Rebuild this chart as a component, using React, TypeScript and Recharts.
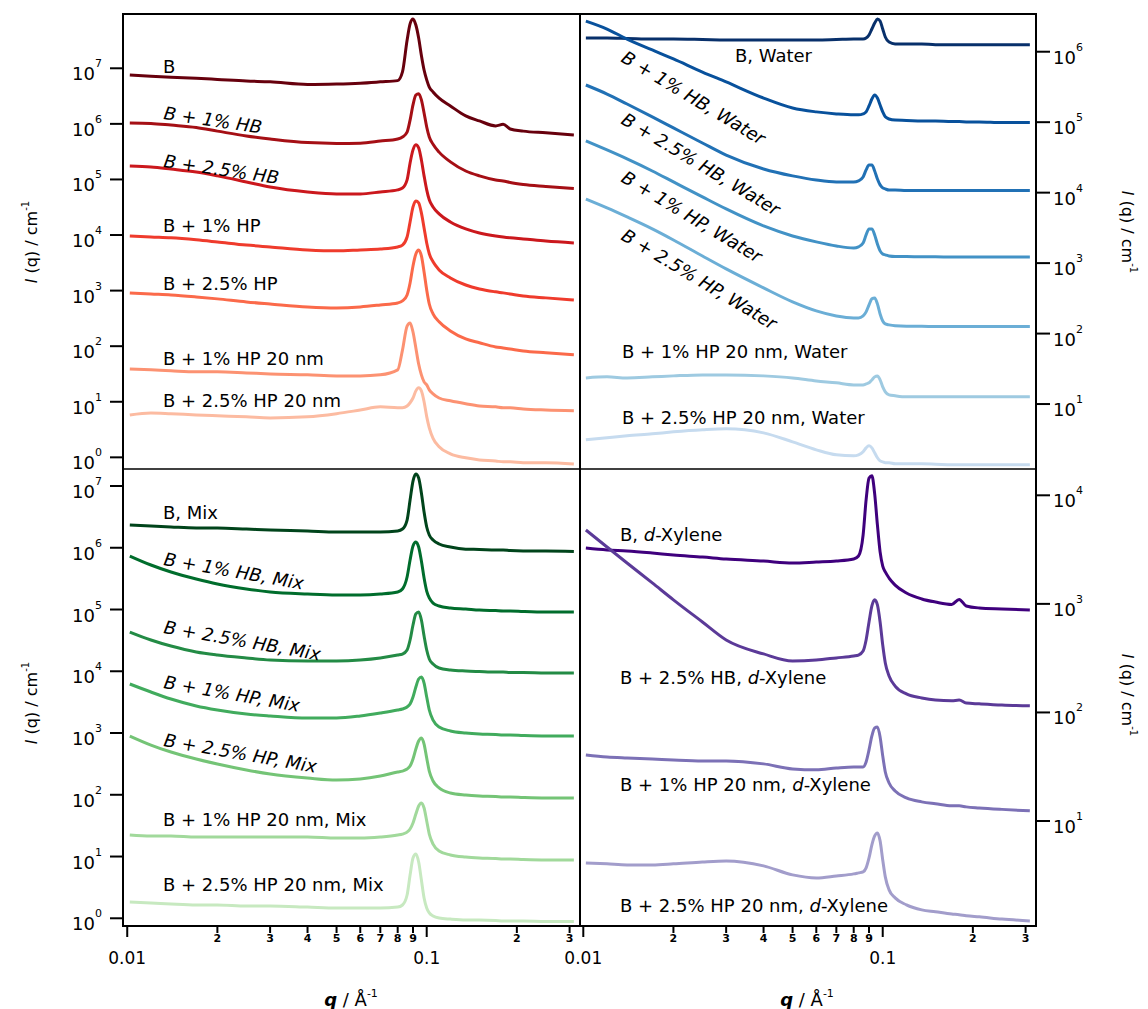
import React from "react";
import { LineChart, Line, XAxis, YAxis } from "recharts";

// shared q grid (Å^-1)
const qValues = [
  0.0102, 0.012, 0.014, 0.017, 0.02, 0.025, 0.03, 0.04, 0.05, 0.06, 0.07, 0.08,
  0.083, 0.086, 0.088, 0.09, 0.092, 0.094, 0.096, 0.098, 0.1, 0.102, 0.105, 0.11,
  0.12, 0.135, 0.15, 0.17, 0.18, 0.19, 0.21, 0.25, 0.31
];

// top left: bulk samples
const bulkB = [7.6e6, 7.2e6, 6.9e6, 6.6e6, 6.3e6, 5.9e6, 5.7e6, 5.1e6, 5.2e6, 5.4e6, 5.7e6, 6.0e6, 8.6e6, 3.2e7, 6.3e7, 7.7e7, 6.0e7, 3.5e7, 1.7e7, 9.3e6, 6.2e6, 4.6e6, 3.75e6, 2.9e6, 2.1e6, 1.39e6, 1.13e6, 9.2e5, 9.8e5, 8.1e5, 7.4e5, 6.9e5, 6.3e5];
const bulkHB1 = [1.04e6, 1.02e6, 9.5e5, 8.6e5, 7.4e5, 6.05e5, 5.35e5, 4.6e5, 4.45e5, 4.5e5, 4.9e5, 5.35e5, 5.8e5, 7.1e5, 1.17e6, 2.2e6, 3.3e6, 3.5e6, 2.7e6, 1.57e6, 8.8e5, 5.8e5, 4.3e5, 3.1e5, 2.07e5, 1.42e5, 1.16e5, 9.8e4, 9.4e4, 8.8e4, 8.1e4, 7.5e4, 6.9e4];
const bulkHB25 = [1.75e5, 1.68e5, 1.54e5, 1.36e5, 1.16e5, 9.0e4, 7.3e4, 5.96e4, 5.5e4, 5.5e4, 5.96e4, 6.5e4, 7.0e4, 9.8e4, 1.98e5, 3.4e5, 4.2e5, 3.7e5, 2.24e5, 1.16e5, 6.5e4, 4.3e4, 3.2e4, 2.4e4, 1.72e4, 1.29e4, 1.09e4, 9.6e3, 9.2e3, 8.9e3, 8.5e3, 7.8e3, 7.2e3];
const bulkHP1 = [9.6e3, 9.2e3, 8.9e3, 8.2e3, 7.5e3, 6.6e3, 6.1e3, 5.4e3, 5.2e3, 5.4e3, 5.6e3, 6.1e3, 6.6e3, 9.2e3, 1.72e4, 3.2e4, 4.1e4, 3.8e4, 2.5e4, 1.34e4, 7.2e3, 4.6e3, 3.3e3, 2.36e3, 1.69e3, 1.26e3, 1.07e3, 950, 910, 870, 800, 740, 680];
const bulkHP25 = [910, 870, 836, 770, 710, 625, 575, 508, 488, 508, 552, 600, 652, 836, 1370, 2780, 4570, 5400, 4200, 2170, 1030, 575, 381, 274, 188, 135, 115, 97, 93, 89, 82, 76, 70];
const bulkHP1nm20 = [39, 37.5, 36, 34.5, 34.5, 33, 31.7, 30.5, 29.2, 29.2, 30.5, 37.5, 85, 230, 261, 180, 93, 47.8, 30.5, 22.8, 20.1, 16.4, 13.9, 11.7, 10.4, 9.2, 8.4, 8.1, 7.8, 7.8, 7.4, 7.1, 6.9];
const bulkHP25nm20 = [5.8, 6.3, 6.1, 5.8, 5.6, 5.35, 5.1, 5.35, 6.1, 7.1, 8.1, 7.8, 7.8, 8.4, 9.6, 11.7, 15.7, 17.8, 15.7, 10, 5.4, 3.4, 2.2, 1.55, 1.155, 0.98, 0.9, 0.86, 0.83, 0.83, 0.8, 0.8, 0.76];

// top right: water
const waterB = [1.56e6, 1.56e6, 1.54e6, 1.51e6, 1.51e6, 1.49e6, 1.47e6, 1.47e6, 1.47e6, 1.47e6, 1.49e6, 1.51e6, 1.51e6, 1.51e6, 1.56e6, 1.73e6, 2.1e6, 2.55e6, 2.91e6, 2.73e6, 2.1e6, 1.62e6, 1.37e6, 1.29e6, 1.29e6, 1.29e6, 1.26e6, 1.26e6, 1.26e6, 1.26e6, 1.26e6, 1.26e6, 1.26e6];
const waterHB1 = [2.72e6, 2.1e6, 1.51e6, 1.06e6, 7.9e5, 5.15e5, 3.72e5, 2.2e5, 1.59e5, 1.4e5, 1.31e5, 1.27e5, 1.27e5, 1.31e5, 1.4e5, 1.7e5, 2.13e5, 2.43e5, 2.2e5, 1.75e5, 1.4e5, 1.19e5, 1.11e5, 1.07e5, 1.06e5, 1.04e5, 1.04e5, 1.02e5, 1.02e5, 1.01e5, 1.01e5, 9.9e4, 9.9e4];
const waterHB25 = [3.37e5, 2.51e5, 1.81e5, 1.19e5, 8.3e4, 5.07e4, 3.42e4, 2.17e4, 1.73e4, 1.51e4, 1.42e4, 1.42e4, 1.47e4, 1.67e4, 2.1e4, 2.47e4, 2.47e4, 2.03e4, 1.56e4, 1.29e4, 1.17e4, 1.13e4, 1.09e4, 1.09e4, 1.07e4, 1.07e4, 1.07e4, 1.07e4, 1.07e4, 1.07e4, 1.07e4, 1.07e4, 1.07e4];
const waterHP1 = [5.41e4, 4.03e4, 3.01e4, 2.03e4, 1.42e4, 8.7e3, 5.87e3, 3.37e3, 2.43e3, 2.0e3, 1.75e3, 1.64e3, 1.7e3, 1.93e3, 2.51e3, 3.06e3, 3.06e3, 2.51e3, 1.87e3, 1.49e3, 1.35e3, 1.31e3, 1.26e3, 1.24e3, 1.24e3, 1.23e3, 1.23e3, 1.22e3, 1.22e3, 1.22e3, 1.22e3, 1.22e3, 1.22e3];
const waterHP25 = [8.1e3, 6.07e3, 4.52e3, 3.06e3, 2.13e3, 1.26e3, 827, 445, 282, 210, 178, 167, 167, 178, 203, 255, 311, 321, 264, 190, 151, 137, 133, 129, 127, 127, 126, 126, 126, 126, 126, 126, 126];
const waterHP1nm20 = [23.5, 24.3, 23.5, 24.3, 25.1, 25.9, 25.9, 25.1, 23.5, 21.3, 20.0, 18.7, 18.7, 18.7, 19.3, 20.0, 22.0, 24.3, 25.1, 22.0, 17.5, 14.9, 13.5, 13.1, 12.65, 12.65, 12.65, 12.65, 12.65, 12.65, 12.65, 12.65, 12.65];
const waterHP25nm20 = [3.11, 3.32, 3.54, 3.78, 4.03, 4.31, 4.45, 3.9, 2.91, 2.24, 1.9, 1.84, 1.9, 2.1, 2.39, 2.55, 2.39, 2.03, 1.73, 1.56, 1.51, 1.47, 1.47, 1.42, 1.42, 1.42, 1.4, 1.37, 1.37, 1.37, 1.37, 1.37, 1.37];

// bottom left: mix
const mixB = [2.34e6, 2.25e6, 2.17e6, 2.09e6, 2.09e6, 2.01e6, 1.94e6, 1.87e6, 1.8e6, 1.8e6, 1.8e6, 1.87e6, 2.01e6, 2.81e6, 5.93e6, 1.2e7, 1.56e7, 1.35e7, 7.7e6, 3.79e6, 2.17e6, 1.61e6, 1.34e6, 1.15e6, 1.03e6, 9.5e5, 9.4e5, 9.2e5, 9.2e5, 9.0e5, 8.86e5, 8.86e5, 8.7e5];
const mixHB1 = [7.35e5, 5.26e5, 4.05e5, 3.12e5, 2.59e5, 2.15e5, 1.92e5, 1.78e5, 1.72e5, 1.72e5, 1.78e5, 1.92e5, 2.15e5, 3.36e5, 6.33e5, 1.07e6, 1.24e6, 1.03e6, 6.1e5, 3.24e5, 1.99e5, 1.54e5, 1.27e5, 1.14e5, 1.06e5, 1.02e5, 9.8e4, 9.6e4, 9.5e4, 9.5e4, 9.3e4, 9.1e4, 9.1e4];
const mixHB25 = [4.32e4, 3.21e4, 2.56e4, 2.05e4, 1.83e4, 1.64e4, 1.52e4, 1.47e4, 1.47e4, 1.52e4, 1.64e4, 1.83e4, 1.9e4, 2.21e4, 3.21e4, 5.61e4, 8.46e4, 9.1e4, 6.76e4, 3.72e4, 2.21e4, 1.58e4, 1.31e4, 1.13e4, 1.05e4, 1.01e4, 9.9e3, 9.7e3, 9.7e3, 9.55e3, 9.55e3, 9.4e3, 9.4e3];
const mixHP1 = [6.22e3, 4.61e3, 3.55e3, 2.74e3, 2.36e3, 2.03e3, 1.89e3, 1.75e3, 1.75e3, 1.89e3, 2.11e3, 2.36e3, 2.45e3, 2.64e3, 2.95e3, 3.83e3, 5.56e3, 7.49e3, 8.07e3, 6.45e3, 3.83e3, 2.36e3, 1.62e3, 1.25e3, 1.08e3, 1.0e3, 963, 946, 928, 928, 911, 894, 894];
const mixHP25 = [894, 639, 492, 379, 315, 252, 217, 187, 173, 180, 201, 234, 242, 261, 292, 379, 551, 742, 830, 663, 394, 242, 167, 129, 107, 99, 95.5, 93.7, 92, 92, 90.3, 88.6, 88.6];
const mixHP1nm20 = [22.3, 21.5, 21.5, 20.7, 20.7, 20.7, 20.7, 20.7, 19.9, 19.9, 20.7, 22.3, 23.1, 24.9, 27.9, 34.9, 48.8, 65.7, 73.5, 61, 37.6, 23.1, 15.9, 12.3, 10.6, 9.8, 9.46, 9.28, 9.11, 9.11, 8.94, 8.78, 8.78];
const mixHP25nm20 = [1.83, 1.77, 1.7, 1.64, 1.64, 1.58, 1.58, 1.52, 1.47, 1.47, 1.47, 1.52, 1.64, 2.38, 5.02, 9.46, 11.0, 8.15, 4.16, 2.13, 1.47, 1.22, 1.09, 1.01, 0.97, 0.94, 0.94, 0.92, 0.9, 0.9, 0.9, 0.886, 0.886];

// bottom right: d-xylene
const xylB = [3.27e3, 3.14e3, 3.07e3, 2.94e3, 2.82e3, 2.7e3, 2.59e3, 2.48e3, 2.38e3, 2.43e3, 2.48e3, 2.59e3, 2.76e3, 4.31e3, 9.06e3, 1.44e4, 1.51e4, 1.03e4, 5.33e3, 3.01e3, 2.23e3, 1.97e3, 1.73e3, 1.49e3, 1.26e3, 1.11e3, 1.04e3, 988, 1.1e3, 957, 917, 898, 879];
const xylHB25 = [4.79e3, 3.34e3, 2.38e3, 1.56e3, 1.09e3, 681, 465, 346, 298, 304, 318, 331, 338, 368, 465, 681, 957, 1.09e3, 977, 681, 418, 286, 217, 175, 148, 136, 130, 128, 130, 122, 120, 117, 115];
const xylHP1nm20 = [40.6, 38.9, 38.1, 37.3, 36.5, 35.8, 35.8, 33.6, 30.2, 29.6, 30.8, 31.5, 31.5, 31.5, 35.0, 45.2, 60.8, 72.0, 73.5, 59.5, 39.8, 28.3, 22.4, 18.9, 16.3, 15.0, 14.4, 13.8, 13.8, 13.5, 13.2, 12.8, 12.4];
const xylHP25nm20 = [4.11, 4.03, 3.94, 3.94, 4.03, 4.2, 4.29, 3.86, 3.19, 2.99, 3.12, 3.26, 3.33, 3.4, 3.7, 4.57, 6.03, 7.29, 7.77, 6.56, 4.38, 3.06, 2.32, 1.96, 1.69, 1.52, 1.46, 1.39, 1.37, 1.34, 1.31, 1.25, 1.2];

const bulkNames = ["B", "B + 1% HB", "B + 2.5% HB", "B + 1% HP", "B + 2.5% HP", "B + 1% HP 20 nm", "B + 2.5% HP 20 nm"];
const waterNames = ["B, Water", "B + 1% HB, Water", "B + 2.5% HB, Water", "B + 1% HP, Water", "B + 2.5% HP, Water", "B + 1% HP 20 nm, Water", "B + 2.5% HP 20 nm, Water"];
const mixNames = ["B, Mix", "B + 1% HB, Mix", "B + 2.5% HB, Mix", "B + 1% HP, Mix", "B + 2.5% HP, Mix", "B + 1% HP 20 nm, Mix", "B + 2.5% HP 20 nm, Mix"];
const xyleneNames = ["B, d-Xylene", "B + 2.5% HB, d-Xylene", "B + 1% HP 20 nm, d-Xylene", "B + 2.5% HP 20 nm, d-Xylene"];

const xTicks = [0.01, 0.02, 0.03, 0.04, 0.05, 0.06, 0.07, 0.08, 0.09, 0.1, 0.2, 0.3];
const xTickLabels = ["0.01", "2", "3", "4", "5", "6", "7", "8", "9", "0.1", "2", "3"];
const yTicksBulk = [1, 10, 100, 1e3, 1e4, 1e5, 1e6, 1e7];
const yTicksWater = [10, 100, 1e3, 1e4, 1e5, 1e6];
const yTicksMix = [1, 10, 100, 1e3, 1e4, 1e5, 1e6, 1e7];
const yTicksXylene = [10, 100, 1e3, 1e4];
const yExponents: Record<number, string> = { 1: "0", 10: "1", 100: "2", 1000: "3", 10000: "4", 100000: "5", 1000000: "6", 10000000: "7" };

const reds = ["#67000d", "#a50f15", "#cb181d", "#ef3b2c", "#fb6a4a", "#fc9272", "#fcbba1"];
const blues = ["#08306b", "#08519c", "#2171b5", "#4292c6", "#6baed6", "#9ecae1", "#c6dbef"];
const greens = ["#00441b", "#006d2c", "#238b45", "#41ab5d", "#74c476", "#a1d99b", "#c7e9c0"];
const purples = ["#3f007d", "#5b3a98", "#7c71b6", "#a29dcb"];

const FONT = "DejaVu Sans";

function XTick(props: any) {
  const { x, y, payload } = props;
  const label = xTickLabels[xTicks.indexOf(payload.value)];
  const major = label.includes(".");
  return (
    <g>
      <line x1={x} x2={x} y1={y} y2={y + (major ? 11 : 7)} stroke="#000" strokeWidth={2} />
      {major ? (
        <text x={x} y={y + 38} textAnchor="middle" fontSize={17} fontFamily={FONT} fill="#000">{label}</text>
      ) : (
        <text x={x} y={y + 16} textAnchor="middle" fontSize={11} fontWeight="bold" fontFamily={FONT} fill="#000">{label}</text>
      )}
    </g>
  );
}

function YTick(props: any) {
  const { x, y, payload, side } = props;
  const exp = yExponents[Math.round(payload.value)];
  const left = side === "left";
  return (
    <g>
      <line x1={left ? x - 13 : x} x2={left ? x : x + 14} y1={y} y2={y} stroke="#000" strokeWidth={2} />
      <text x={left ? x - 21 : x + 17} y={y + 12} textAnchor={left ? "end" : "start"} fontSize={18} fontFamily={FONT} fill="#000">
        10<tspan dy={-13} fontSize={11}>{exp}</tspan>
      </text>
    </g>
  );
}

interface PanelProps {
  left: number;
  top: number;
  width: number;
  height: number;
  margin: { top: number; right: number; bottom: number; left: number };
  series: number[][];
  colors: string[];
  xDomain: [number, number];
  yDomain: [number, number];
  yTicks: number[];
  side: "left" | "right";
  showX: boolean;
}

function Panel(p: PanelProps) {
  const rows = qValues.map((q, i) => {
    const row: Record<string, number> = { q };
    p.series.forEach((s, k) => {
      row["s" + k] = s[i];
    });
    return row;
  });
  return (
    <div style={{ position: "absolute", left: p.left, top: p.top }}>
      <LineChart width={p.width} height={p.height} data={rows} margin={p.margin}>
        <XAxis
          type="number"
          dataKey="q"
          scale="log"
          domain={p.xDomain}
          allowDataOverflow
          ticks={xTicks}
          interval={0}
          hide={!p.showX}
          height={60}
          axisLine={false}
          tickLine={false}
          tickSize={0}
          tickMargin={0}
          tick={(t: any) => <XTick {...t} />}
        />
        <YAxis
          type="number"
          scale="log"
          domain={p.yDomain}
          allowDataOverflow
          ticks={p.yTicks}
          interval={0}
          orientation={p.side}
          width={60}
          axisLine={false}
          tickLine={false}
          tickSize={0}
          tickMargin={0}
          tick={(t: any) => <YTick {...t} side={p.side} />}
        />
        {p.series.map((_, k) => (
          <Line
            key={k}
            type="monotone"
            dataKey={"s" + k}
            stroke={p.colors[k]}
            strokeWidth={3}
            strokeLinejoin="round"
            dot={false}
            isAnimationActive={false}
          />
        ))}
      </LineChart>
    </div>
  );
}

// label anchors: [x, y, angle]
const bulkLabelPos = [[163, 73, 0], [163, 119, 8.5], [163, 167, 8.5], [163, 232, 0], [163, 290, 0], [163, 365, 0], [163, 407, 0]];
const waterLabelPos = [[735, 62, 0], [620, 61, 31], [620, 123, 31], [620, 181, 31], [620, 239, 31], [622, 358, 0], [622, 424, 0]];
const mixLabelPos = [[163, 519, 0], [163, 565, 10], [163, 633, 10], [163, 688, 10], [163, 746, 10], [163, 826, 0], [163, 891, 0]];
const xyleneLabelPos = [[620, 541, 0], [620, 684, 0], [620, 791, 0], [620, 912, 0]];

function CurveLabel({ text, pos }: { text: string; pos: number[] }) {
  const [x, y, angle] = pos;
  const parts = text.split("d-Xylene");
  return (
    <text
      x={x}
      y={y}
      transform={angle ? `rotate(${angle} ${x} ${y})` : undefined}
      fontSize={18}
      fontFamily={FONT}
      fontStyle={angle ? "italic" : "normal"}
      fill="#000"
    >
      {parts[0]}
      {parts.length > 1 && (
        <>
          <tspan fontStyle="italic">d</tspan>-Xylene
        </>
      )}
    </text>
  );
}

function YTitle({ x, y, angle }: { x: number; y: number; angle: number }) {
  return (
    <text transform={`translate(${x} ${y}) rotate(${angle})`} textAnchor="middle" fontSize={16} fontFamily={FONT} fill="#000">
      <tspan fontStyle="italic">I</tspan> (q) / cm<tspan dy={-8} fontSize={10}>-1</tspan>
    </text>
  );
}

function XTitle({ x }: { x: number }) {
  return (
    <text x={x} y={1006} textAnchor="middle" fontSize={18} fontFamily={FONT} fill="#000">
      <tspan fontStyle="italic" fontWeight="bold">q</tspan> / Å<tspan dy={-9} fontSize={11}>-1</tspan>
    </text>
  );
}

export default function App() {
  const xDomainLeft: [number, number] = [0.00968, 0.325];
  const xDomainRight: [number, number] = [0.00975, 0.325];
  return (
    <div style={{ position: "relative", width: 1148, height: 1009, marginLeft: -8, marginTop: -8, background: "#fff" }}>
      <Panel
        left={0} top={0} width={580} height={500}
        margin={{ top: 14, right: 0, bottom: 31, left: 63 }}
        series={[bulkB, bulkHB1, bulkHB25, bulkHP1, bulkHP25, bulkHP1nm20, bulkHP25nm20]}
        colors={reds}
        xDomain={xDomainLeft} yDomain={[0.617, 9.48e7]} yTicks={yTicksBulk}
        side="left" showX={false}
      />
      <Panel
        left={540} top={0} width={560} height={500}
        margin={{ top: 14, right: 4, bottom: 31, left: 40 }}
        series={[waterB, waterHB1, waterHB25, waterHP1, waterHP25, waterHP1nm20, waterHP25nm20]}
        colors={blues}
        xDomain={xDomainRight} yDomain={[1.197, 3.43e6]} yTicks={yTicksWater}
        side="right" showX={false}
      />
      <Panel
        left={0} top={469} width={580} height={540}
        margin={{ top: 0, right: 0, bottom: 23, left: 63 }}
        series={[mixB, mixHB1, mixHB25, mixHP1, mixHP25, mixHP1nm20, mixHP25nm20]}
        colors={greens}
        xDomain={xDomainLeft} yDomain={[0.75, 1.885e7]} yTicks={yTicksMix}
        side="left" showX={true}
      />
      <Panel
        left={540} top={469} width={560} height={540}
        margin={{ top: 0, right: 4, bottom: 23, left: 40 }}
        series={[xylB, xylHB25, xylHP1nm20, xylHP25nm20]}
        colors={purples}
        xDomain={xDomainRight} yDomain={[1.079, 1.747e4]} yTicks={yTicksXylene}
        side="right" showX={true}
      />
      <svg width={1148} height={1009} style={{ position: "absolute", left: 0, top: 0, pointerEvents: "none" }}>
        <rect x={123} y={14} width={913} height={912} fill="none" stroke="#000" strokeWidth={2} />
        <line x1={580} x2={580} y1={14} y2={926} stroke="#000" strokeWidth={2} />
        <line x1={123} x2={1036} y1={469} y2={469} stroke="#000" strokeWidth={1.5} />
        {bulkNames.map((n, i) => <CurveLabel key={"b" + i} text={n} pos={bulkLabelPos[i]} />)}
        {waterNames.map((n, i) => <CurveLabel key={"w" + i} text={n} pos={waterLabelPos[i]} />)}
        {mixNames.map((n, i) => <CurveLabel key={"m" + i} text={n} pos={mixLabelPos[i]} />)}
        {xyleneNames.map((n, i) => <CurveLabel key={"x" + i} text={n} pos={xyleneLabelPos[i]} />)}
        <YTitle x={37} y={242} angle={-90} />
        <YTitle x={37} y={703} angle={-90} />
        <YTitle x={1122} y={232} angle={90} />
        <YTitle x={1122} y={695} angle={90} />
        <XTitle x={351} />
        <XTitle x={807} />
      </svg>
    </div>
  );
}
